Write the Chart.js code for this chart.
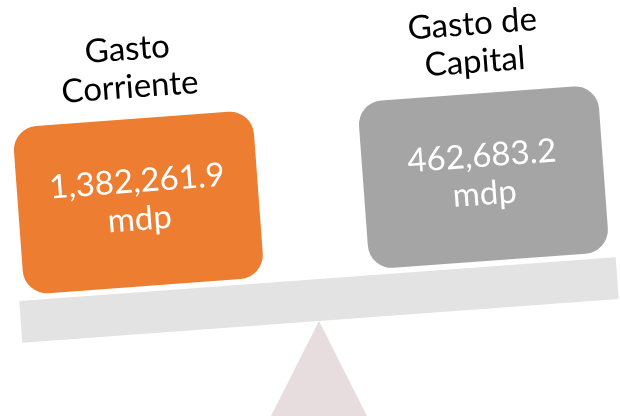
<!DOCTYPE html>
<html>
<head>
<meta charset="utf-8">
<script src="https://cdn.jsdelivr.net/npm/chart.js@4"></script>
<style>html,body{margin:0;background:#fff}</style>
</head>
<body>
<canvas id="balanza" width="620" height="416"></canvas>
<script>
const categorias = [['Gasto', 'Corriente'], ['Gasto de', 'Capital']];
const montos = [1382261.9, 462683.2];
const unidad = 'mdp';
const colores = ['#ED7D31', '#A5A5A5'];

// the whole scale leans to the heavier side
const giro = -4.2 * Math.PI / 180;
const pivote = { x: 319, y: 300 };

function girar(ctx) {
  ctx.translate(pivote.x, pivote.y);
  ctx.rotate(giro);
  ctx.translate(-pivote.x, -pivote.y);
}

function formato(v) {
  return v.toLocaleString('en-US', { minimumFractionDigits: 1, maximumFractionDigits: 1 });
}

const balanza = {
  id: 'balanza',
  beforeDatasetsDraw(chart) {
    const ctx = chart.ctx;
    // fulcro (not rotated)
    ctx.save();
    ctx.fillStyle = '#E8DDDE';
    ctx.beginPath();
    ctx.moveTo(pivote.x, pivote.y + 21);
    ctx.lineTo(pivote.x - 50, 420);
    ctx.lineTo(pivote.x + 50, 420);
    ctx.closePath();
    ctx.fill();
    ctx.restore();

    // beam, boxes and texts share the rotation
    ctx.save();
    girar(ctx);
    ctx.fillStyle = '#E3E3E3';
    ctx.fillRect(pivote.x - 299, pivote.y - 21, 598, 42);
  },
  afterDatasetsDraw(chart) {
    const ctx = chart.ctx;
    const meta = chart.getDatasetMeta(0);
    ctx.textAlign = 'center';
    ctx.textBaseline = 'middle';
    meta.data.forEach((bar, i) => {
      const mid = (bar.y + bar.base) / 2;
      ctx.fillStyle = '#fff';
      ctx.font = '33px Lato';
      ctx.fillText(formato(montos[i]), bar.x, mid - 21);
      ctx.fillText(unidad, bar.x, mid + 17);
      ctx.fillStyle = '#000';
      ctx.font = '33px Lato';
      ctx.fillText(categorias[i][0], bar.x, bar.y - 70);
      ctx.fillText(categorias[i][1], bar.x, bar.y - 32);
    });
    ctx.restore();
  }
};

new Chart(document.getElementById('balanza'), {
  type: 'bar',
  data: {
    labels: categorias,
    datasets: [{
      data: montos.map(() => 1), // each plate has the same size
      backgroundColor: colores,
      borderRadius: 24,
      borderSkipped: false,
      barThickness: 240,
      clip: false
    }]
  },
  options: {
    responsive: false,
    animation: false,
    devicePixelRatio: 1,
    layout: { padding: { left: 146, right: 128, top: 106, bottom: 143 } },
    plugins: { legend: { display: false }, tooltip: { enabled: false } },
    scales: {
      x: { type: 'category', offset: false, display: false },
      y: { min: 0, max: 1, display: false }
    }
  },
  plugins: [balanza]
});
</script>
</body>
</html>
